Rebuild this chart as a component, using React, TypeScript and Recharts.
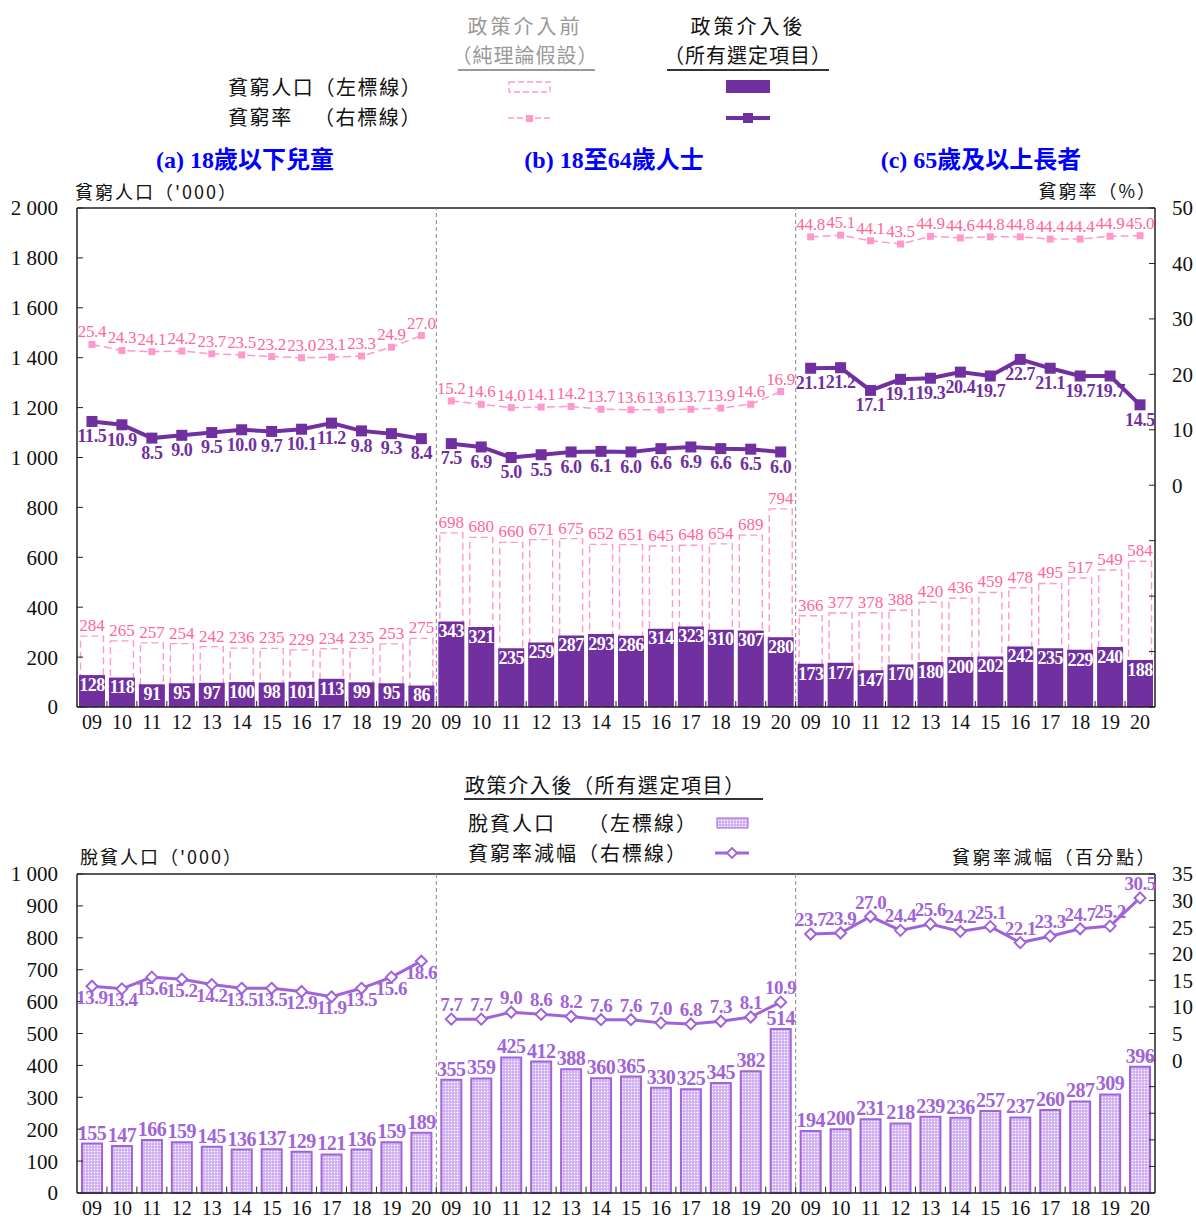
import React from 'react';
import { ComposedChart, Bar, Line, XAxis, YAxis, ReferenceLine, LabelList } from 'recharts';

const years = ['09', '10', '11', '12', '13', '14', '15', '16', '17', '18', '19', '20'];

// 貧窮人口 ('000)
const popBeforeA = [284, 265, 257, 254, 242, 236, 235, 229, 234, 235, 253, 275];
const popAfterA = [128, 118, 91, 95, 97, 100, 98, 101, 113, 99, 95, 86];
const popBeforeB = [698, 680, 660, 671, 675, 652, 651, 645, 648, 654, 689, 794];
const popAfterB = [343, 321, 235, 259, 287, 293, 286, 314, 323, 310, 307, 280];
const popBeforeC = [366, 377, 378, 388, 420, 436, 459, 478, 495, 517, 549, 584];
const popAfterC = [173, 177, 147, 170, 180, 200, 202, 242, 235, 229, 240, 188];

// 貧窮率 (%)
const rateBeforeA = [25.4, 24.3, 24.1, 24.2, 23.7, 23.5, 23.2, 23.0, 23.1, 23.3, 24.9, 27.0];
const rateAfterA = [11.5, 10.9, 8.5, 9.0, 9.5, 10.0, 9.7, 10.1, 11.2, 9.8, 9.3, 8.4];
const rateBeforeB = [15.2, 14.6, 14.0, 14.1, 14.2, 13.7, 13.6, 13.6, 13.7, 13.9, 14.6, 16.9];
const rateAfterB = [7.5, 6.9, 5.0, 5.5, 6.0, 6.1, 6.0, 6.6, 6.9, 6.6, 6.5, 6.0];
const rateBeforeC = [44.8, 45.1, 44.1, 43.5, 44.9, 44.6, 44.8, 44.8, 44.4, 44.4, 44.9, 45.0];
const rateAfterC = [21.1, 21.2, 17.1, 19.1, 19.3, 20.4, 19.7, 22.7, 21.1, 19.7, 19.7, 14.5];

// 脫貧人口 ('000)
const liftedA = [155, 147, 166, 159, 145, 136, 137, 129, 121, 136, 159, 189];
const liftedB = [355, 359, 425, 412, 388, 360, 365, 330, 325, 345, 382, 514];
const liftedC = [194, 200, 231, 218, 239, 236, 257, 237, 260, 287, 309, 396];

// 貧窮率減幅 (百分點)
const cutA = [13.9, 13.4, 15.6, 15.2, 14.2, 13.5, 13.5, 12.9, 11.9, 13.5, 15.6, 18.6];
const cutB = [7.7, 7.7, 9.0, 8.6, 8.2, 7.6, 7.6, 7.0, 6.8, 7.3, 8.1, 10.9];
const cutC = [23.7, 23.9, 27.0, 24.4, 25.6, 24.2, 25.1, 22.1, 23.3, 24.7, 25.2, 30.5];

const groupTitles = ['(a) 18歲以下兒童', '(b) 18至64歲人士', '(c) 65歲及以上長者'];

const leftTicksTop = [0, 200, 400, 600, 800, 1000, 1200, 1400, 1600, 1800, 2000];
const rightTicksTop = [-40, -30, -20, -10, 0, 10, 20, 30, 40, 50];
const leftTicksBottom = [0, 100, 200, 300, 400, 500, 600, 700, 800, 900, 1000];
const rightTicksBottom = [-25, -20, -15, -10, -5, 0, 5, 10, 15, 20, 25, 30, 35];
const boundaries = Array.from({ length: 35 }, (_, i) => i + 1);

const popBefore = [popBeforeA, popBeforeB, popBeforeC];
const popAfter = [popAfterA, popAfterB, popAfterC];
const rateBefore = [rateBeforeA, rateBeforeB, rateBeforeC];
const rateAfter = [rateAfterA, rateAfterB, rateAfterC];
const lifted = [liftedA, liftedB, liftedC];
const cut = [cutA, cutB, cutC];

const topData: any[] = [];
const bottomData: any[] = [];
[0, 1, 2].forEach((g) => {
  years.forEach((y, i) => {
    const t: any = { key: `${g}-${y}`, pos: g * 12 + i + 0.5, pb: popBefore[g][i], pa: popAfter[g][i] };
    const b: any = { key: `${g}-${y}`, pos: g * 12 + i + 0.5, out: lifted[g][i] };
    [0, 1, 2].forEach((k) => {
      t[`rb${k}`] = k === g ? rateBefore[g][i] : null;
      t[`ra${k}`] = k === g ? rateAfter[g][i] : null;
      b[`cut${k}`] = k === g ? cut[g][i] : null;
    });
    topData.push(t);
    bottomData.push(b);
  });
});

const SERIF = '"Liberation Serif", "Times New Roman", "Noto Sans CJK TC", serif';
const CJK = '"Noto Sans CJK TC", "Liberation Serif", sans-serif';
const PURPLE = '#7030A0';
const PINK = '#FF99CC';
const PINK_TEXT = '#FF6699';
const LAV = '#A064D8';
const BLUE = '#0000FF';

const thousands = (v: number) => (v >= 1000 ? `${Math.floor(v / 1000)} ${String(v % 1000).padStart(3, '0')}` : String(v));
const pos = (v: number) => (v < 0 ? '' : String(v));
const fmt1 = (v: any) => (v == null ? '' : Number(v).toFixed(1));

const DashedBar = (p: any) => {
  const { x, y, width, height } = p;
  if (height == null || height <= 0) return <g />;
  return (
    <rect x={x + 1.5} y={y} width={width - 3} height={height} fill="#fff" stroke={PINK} strokeWidth={1.4} strokeDasharray="7 4" />
  );
};

const squareDot = (size: number, color: string) => (p: any) => {
  if (p.value == null || p.cy == null) return <g key={`e-${p.index}`} />;
  return <rect key={`s-${p.index}`} x={p.cx - size / 2} y={p.cy - size / 2} width={size} height={size} fill={color} />;
};

const diamondDot = (p: any) => {
  if (p.value == null || p.cy == null) return <g key={`e-${p.index}`} />;
  const r = 5.5;
  return (
    <path
      key={`d-${p.index}`}
      d={`M${p.cx},${p.cy - r}L${p.cx + r},${p.cy}L${p.cx},${p.cy + r}L${p.cx - r},${p.cy}Z`}
      fill="#fff"
      stroke={LAV}
      strokeWidth={2}
    />
  );
};

const axisTick = { fontSize: 21, fill: '#111', fontFamily: SERIF };

const Frame = ({ top }: { top: number }) => (
  <>
    <ReferenceLine yAxisId="left" y={top} stroke="#222" strokeWidth={1.5} />
    {[12, 24].map((b) => (
      <ReferenceLine key={`sep-${b}`} xAxisId="n" yAxisId="left" x={b} stroke="#888" strokeDasharray="4 3" strokeWidth={1} />
    ))}
  </>
);

export default function App() {
  return (
    <div style={{ position: 'fixed', left: 0, top: 0, width: 1196, height: 1221, overflow: 'hidden', background: '#fff' }}>
      <svg width={0} height={0} style={{ position: 'absolute' }}>
        <defs>
          <pattern id="dots" width={3} height={3} patternUnits="userSpaceOnUse">
            <rect width={3} height={3} fill="#CDA8F0" />
            <rect x={0.7} y={0.7} width={1.6} height={1.6} fill="#fff" />
          </pattern>
        </defs>
      </svg>

      <div style={{ position: 'absolute', left: 0, top: 0 }}>
        <ComposedChart width={1196} height={740} data={topData} margin={{ top: 208, right: 0, bottom: 3, left: 0 }} barGap={-26}>
          <XAxis
            dataKey="key"
            tickFormatter={(v: string) => v.slice(2)}
            interval={0}
            tickLine={false}
            height={30}
            tick={{ ...axisTick, fontSize: 20 }}
            axisLine={{ stroke: '#222', strokeWidth: 1.5 }}
          />
          <XAxis xAxisId="n" dataKey="pos" type="number" domain={[0, 36]} hide allowDataOverflow />
          <YAxis
            yAxisId="left"
            domain={[0, 2000]}
            ticks={leftTicksTop}
            tickFormatter={thousands}
            width={77}
            tickSize={-6}
            tickMargin={25}
            interval={0}
            tick={axisTick}
            axisLine={{ stroke: '#222', strokeWidth: 1.5 }}
            tickLine={{ stroke: '#222' }}
          />
          <YAxis
            yAxisId="right"
            orientation="right"
            domain={[-40, 50]}
            ticks={rightTicksTop}
            tickFormatter={pos}
            width={41}
            tickSize={-6}
            tickMargin={23}
            interval={0}
            tick={{ ...axisTick, textAnchor: 'start' }}
            axisLine={{ stroke: '#222', strokeWidth: 1.5 }}
            tickLine={{ stroke: '#222' }}
          />
          {Frame({ top: 2000 })}
          {boundaries.map((b) => (
            <ReferenceLine
              key={`tk-${b}`}
              xAxisId="n"
              yAxisId="left"
              segment={[{ x: b, y: 0 }, { x: b, y: 24 }]}
              stroke="#222"
            />
          ))}
          <Bar yAxisId="left" dataKey="pb" barSize={26} shape={DashedBar} isAnimationActive={false}>
            <LabelList dataKey="pb" position="top" offset={5} fill={PINK_TEXT} fontSize={17} fontFamily={SERIF} />
          </Bar>
          <Bar yAxisId="left" dataKey="pa" barSize={26} fill={PURPLE} isAnimationActive={false}>
            <LabelList dataKey="pa" position="insideTop" offset={3} fill="#fff" fontSize={18} fontWeight="bold" fontFamily={SERIF} letterSpacing={-0.5} />
          </Bar>
          {[0, 1, 2].map((k) => (
            <Line
              key={`rb${k}`}
              yAxisId="right"
              dataKey={`rb${k}`}
              stroke={PINK}
              strokeWidth={1.5}
              strokeDasharray="8 4"
              dot={squareDot(7, PINK)}
              activeDot={false}
              connectNulls={false}
              isAnimationActive={false}
            >
              <LabelList dataKey={`rb${k}`} position="top" offset={7} formatter={fmt1} fill={PINK_TEXT} fontSize={17} fontFamily={SERIF} letterSpacing={-0.3} />
            </Line>
          ))}
          {[0, 1, 2].map((k) => (
            <Line
              key={`ra${k}`}
              yAxisId="right"
              dataKey={`ra${k}`}
              stroke={PURPLE}
              strokeWidth={4}
              dot={squareDot(11, PURPLE)}
              activeDot={false}
              connectNulls={false}
              isAnimationActive={false}
            >
              <LabelList dataKey={`ra${k}`} position="bottom" offset={8} formatter={fmt1} fill={PURPLE} fontSize={18} fontWeight="bold" fontFamily={SERIF} letterSpacing={-0.4} />
            </Line>
          ))}
        </ComposedChart>
      </div>

      <div style={{ position: 'absolute', left: 0, top: 760 }}>
        <ComposedChart width={1196} height={461} data={bottomData} margin={{ top: 114, right: 0, bottom: 0, left: 0 }}>
          <XAxis
            dataKey="key"
            tickFormatter={(v: string) => v.slice(2)}
            interval={0}
            tickLine={false}
            height={28}
            tick={{ ...axisTick, fontSize: 20 }}
            axisLine={{ stroke: '#222', strokeWidth: 1.5 }}
          />
          <XAxis xAxisId="n" dataKey="pos" type="number" domain={[0, 36]} hide allowDataOverflow />
          <YAxis
            yAxisId="left"
            domain={[0, 1000]}
            ticks={leftTicksBottom}
            tickFormatter={thousands}
            width={77}
            tickSize={-6}
            tickMargin={25}
            interval={0}
            tick={axisTick}
            axisLine={{ stroke: '#222', strokeWidth: 1.5 }}
            tickLine={{ stroke: '#222' }}
          />
          <YAxis
            yAxisId="right"
            orientation="right"
            domain={[-25, 35]}
            ticks={rightTicksBottom}
            tickFormatter={pos}
            width={41}
            tickSize={-6}
            tickMargin={23}
            interval={0}
            tick={{ ...axisTick, textAnchor: 'start' }}
            axisLine={{ stroke: '#222', strokeWidth: 1.5 }}
            tickLine={{ stroke: '#222' }}
          />
          {Frame({ top: 1000 })}
          {boundaries.map((b) => (
            <ReferenceLine
              key={`tk-${b}`}
              xAxisId="n"
              yAxisId="left"
              segment={[{ x: b, y: 0 }, { x: b, y: 20 }]}
              stroke="#222"
            />
          ))}
          <Bar yAxisId="left" dataKey="out" barSize={20} fill="url(#dots)" stroke={LAV} strokeWidth={2} isAnimationActive={false}>
            <LabelList dataKey="out" position="top" offset={4} fill={LAV} fontSize={20} fontWeight="bold" fontFamily={SERIF} letterSpacing={-0.5} />
          </Bar>
          {[0, 1, 2].map((k) => (
            <Line
              key={`cut${k}`}
              yAxisId="right"
              dataKey={`cut${k}`}
              stroke={LAV}
              strokeWidth={3}
              dot={diamondDot}
              activeDot={false}
              connectNulls={false}
              isAnimationActive={false}
            >
              <LabelList
                dataKey={`cut${k}`}
                position={k === 0 ? 'bottom' : 'top'}
                offset={k === 0 ? 4 : 8}
                formatter={fmt1}
                fill={LAV}
                fontSize={19}
                fontWeight="bold"
                fontFamily={SERIF}
                letterSpacing={-0.5}
              />
            </Line>
          ))}
        </ComposedChart>
      </div>

      <svg width={1196} height={1221} style={{ position: 'absolute', left: 0, top: 0, pointerEvents: 'none' }}>
        <g fontFamily={CJK} fontSize={20}>
          <text x={525} y={34} textAnchor="middle" fill="#999" letterSpacing={3}>政策介入前</text>
          <text x={525} y={63} textAnchor="middle" fill="#999" letterSpacing={1}>（純理論假設）</text>
          <line x1={458} x2={595} y1={70} y2={70} stroke="#999" strokeWidth={2} />
          <text x={748} y={34} textAnchor="middle" fill="#111" letterSpacing={3}>政策介入後</text>
          <text x={748} y={63} textAnchor="middle" fill="#111" letterSpacing={1}>（所有選定項目）</text>
          <line x1={667} x2={829} y1={70} y2={70} stroke="#333" strokeWidth={2} />
          <text x={228} y={95} fill="#111" letterSpacing={1.6}>貧窮人口（左標線）</text>
          <text x={228} y={125} fill="#111" letterSpacing={1.6}>貧窮率</text>
          <text x={314} y={125} fill="#111" letterSpacing={1.6}>（右標線）</text>
          <rect x={509} y={82} width={41} height={10} fill="#fff" stroke={PINK} strokeWidth={1.3} strokeDasharray="6 3" />
          <rect x={726} y={80} width={44} height={13} fill={PURPLE} />
          <line x1={508} x2={550} y1={118} y2={118} stroke={PINK} strokeWidth={1.5} strokeDasharray="6 3" />
          <rect x={526} y={115} width={7} height={7} fill={PINK} />
          <line x1={726} x2={770} y1={118} y2={118} stroke={PURPLE} strokeWidth={4} />
          <rect x={743} y={113} width={10} height={10} fill={PURPLE} />
        </g>
        <g fontFamily={SERIF} fontSize={24} fontWeight="bold" fill={BLUE}>
          <text x={245} y={168} textAnchor="middle">{groupTitles[0]}</text>
          <text x={614} y={168} textAnchor="middle">{groupTitles[1]}</text>
          <text x={981} y={168} textAnchor="middle">{groupTitles[2]}</text>
        </g>
        <g fontFamily={CJK} fontSize={18} fill="#111">
          <text x={75} y={199} letterSpacing={2}>貧窮人口（'000）</text>
          <text x={1157} y={198} textAnchor="end" letterSpacing={2}>貧窮率（%）</text>
        </g>
        <g fontFamily={CJK} fontSize={20} fill="#111">
          <text x={465} y={793} letterSpacing={1.6}>政策介入後（所有選定項目）</text>
          <line x1={464} x2={763} y1={799} y2={799} stroke="#333" strokeWidth={2} />
          <text x={468} y={831} letterSpacing={2}>脫貧人口</text>
          <text x={588} y={831} letterSpacing={2}>（左標線）</text>
          <text x={468} y={861} letterSpacing={2}>貧窮率減幅（右標線）</text>
          <rect x={717} y={818} width={31} height={10} fill="url(#dots)" stroke={LAV} strokeWidth={1} />
          <line x1={715} x2={749} y1={853} y2={853} stroke={LAV} strokeWidth={3} />
          <path d="M732,848L737,853L732,858L727,853Z" fill="#fff" stroke={LAV} strokeWidth={1.8} />
        </g>
        <g fontFamily={CJK} fontSize={18} fill="#111">
          <text x={80} y={864} letterSpacing={2}>脫貧人口（'000）</text>
          <text x={1157} y={864} textAnchor="end" letterSpacing={2.5}>貧窮率減幅（百分點）</text>
        </g>
      </svg>
    </div>
  );
}
